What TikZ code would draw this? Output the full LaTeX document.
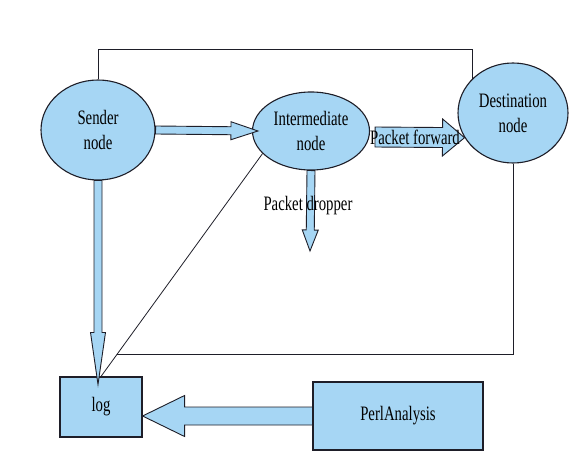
\documentclass[tikz,border=0pt]{standalone}
\usepackage{fontspec}
\setmainfont[FakeStretch=0.72]{Liberation Serif}
\usetikzlibrary{shapes.geometric,calc}
\definecolor{nodeblue}{RGB}{166,214,244}
\definecolor{edgegray}{RGB}{30,30,40}
\newcommand\blockarrow[5]{%
\coordinate (ba-h) at ($(#2)!#5!(#1)$);
\draw[bigarrow] ($(#1)!#3!90:(#2)$) -- ($(ba-h)!#3!90:(#2)$) -- ($(ba-h)!#4!90:(#2)$) -- (#2) -- ($(ba-h)!#4!-90:(#2)$) -- ($(ba-h)!#3!-90:(#2)$) -- ($(#1)!#3!-90:(#2)$) -- cycle;}

\begin{document}
\begin{tikzpicture}[x=1pt, y=1pt,
  bubble/.style={ellipse, draw=edgegray, line width=1.1pt, fill=nodeblue, inner sep=0pt, align=center, font=\fontsize{20.5}{25}\selectfont},
  box/.style={rectangle, draw=edgegray, line width=1.1pt, fill=nodeblue, font=\fontsize{20.5}{24}\selectfont},
  bigarrow/.style={draw=edgegray, line width=0.9pt, fill=nodeblue, line join=miter},
  wire/.style={draw=edgegray, line width=0.8pt},
  lbl/.style={font=\fontsize{20.5}{24}\selectfont, inner sep=0pt}]
\useasboundingbox (0,0) rectangle (569,-454);
\node[bubble, minimum width=114pt, minimum height=100pt] (sender) at (98,-130) {Sender\\node};
\node[bubble, minimum width=117pt, minimum height=78pt] (inter) at (311,-131) {Intermediate\\node};
\node[bubble, minimum width=110pt, minimum height=100pt] (dest) at (513,-113) {Destination\\node};
\node[box, minimum width=82pt, minimum height=60pt] (log) at (101,-407) {log};
\node[box, minimum width=170pt, minimum height=68pt] (perl) at (398,-416) {PerlAnalysis};
\draw[wire] (sender.north) -- ++(0,30) -| (dest.140);
\draw[wire] (inter.205) -- (log.north);
\coordinate (meet) at ($(inter.205)!0.9!(log.north)$);
\draw[wire] (dest.south) |- (meet);
\coordinate (s2i-a) at (sender.east);
\coordinate (s2i-b) at ([xshift=6pt]inter.west);
\blockarrow{s2i-a}{s2i-b}{4pt}{9pt}{27pt}
\coordinate (fwd-a) at ([shift={(5pt,-6pt)}]inter.east);
\coordinate (fwd-b) at (dest.207);
\blockarrow{fwd-a}{fwd-b}{10pt}{18.5pt}{22pt}
\coordinate (drop-a) at (inter.south);
\coordinate (drop) at (310,-251);
\blockarrow{drop-a}{drop}{4pt}{8pt}{21pt}
\coordinate (s2l-a) at (sender.south);
\coordinate (s2l-b) at ($(sender.south |- log.north)+(0,-8)$);
\blockarrow{s2l-a}{s2l-b}{4pt}{7.5pt}{52pt}
\coordinate (p2l-a) at (perl.west);
\coordinate (p2l-b) at (log.east |- perl.west);
\blockarrow{p2l-a}{p2l-b}{9pt}{20.5pt}{42pt}
\node[lbl] (fwd-lbl) at (415,-137) {Packet forward};
\node[lbl] (drop-lbl) at (308,-206) {Packet dropper};
\end{tikzpicture}
\end{document}
